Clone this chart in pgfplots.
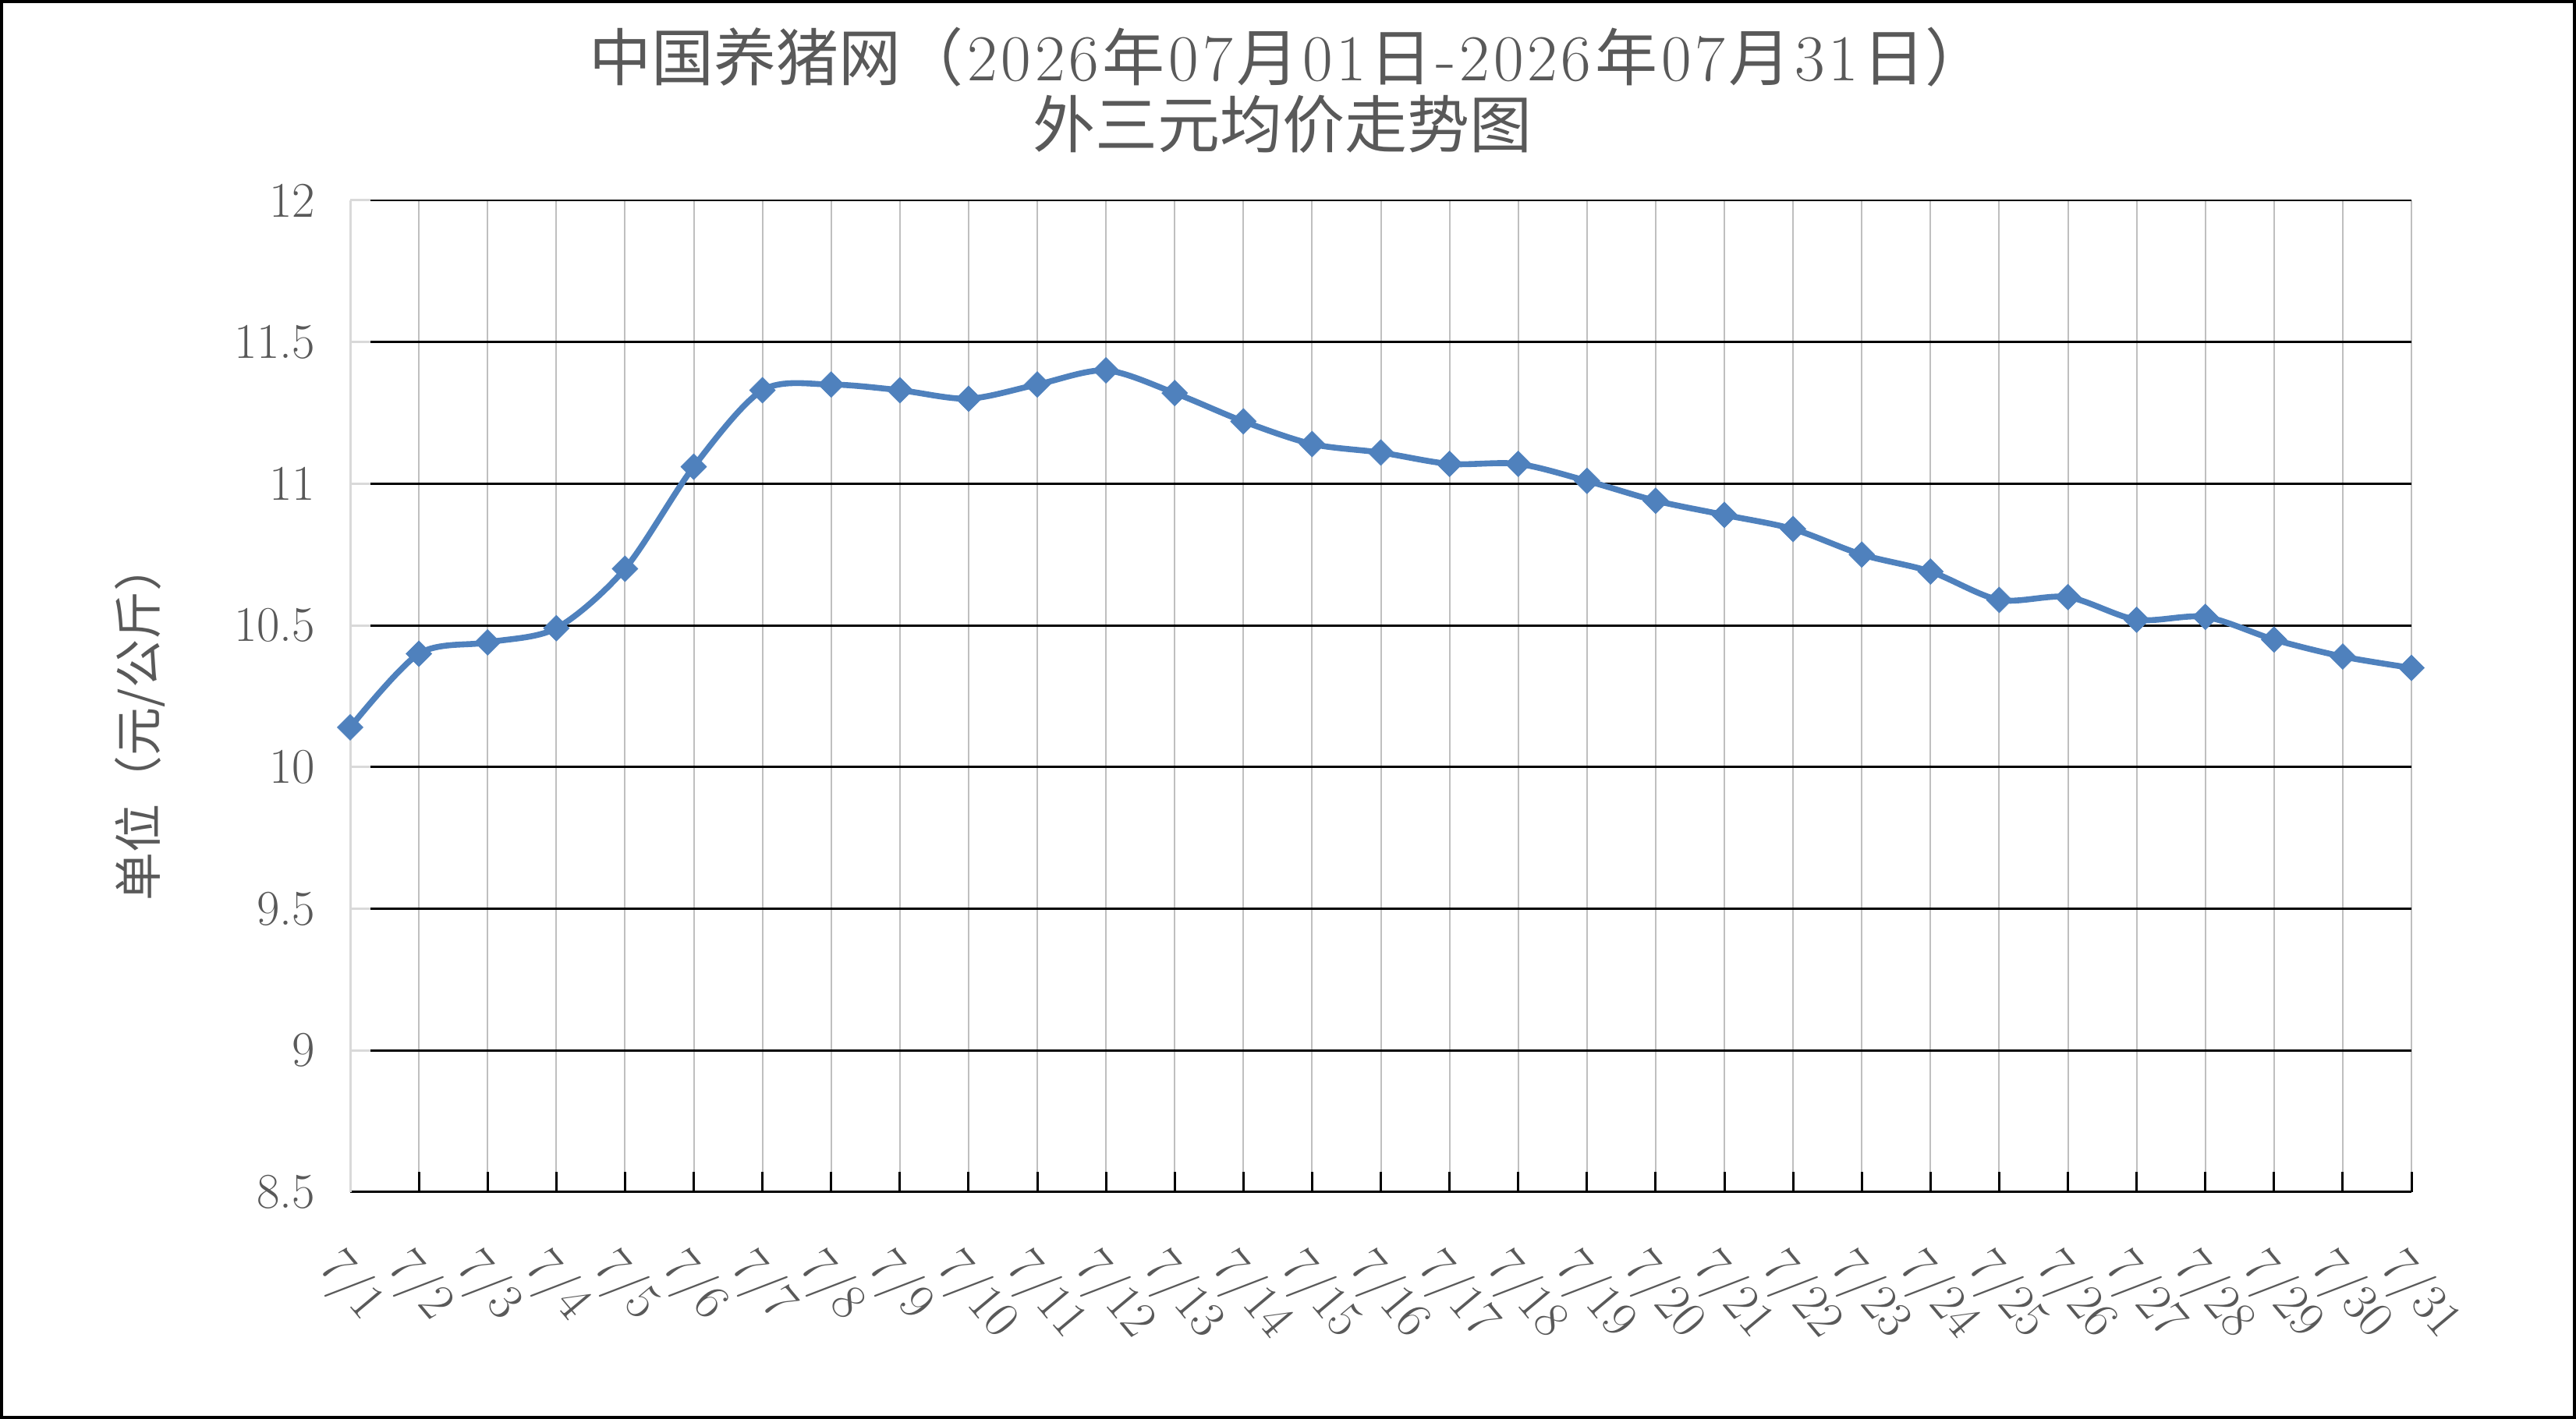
\documentclass[border=0pt]{standalone}
\usepackage{fontspec}
\usepackage{pgfplots}
\pgfplotsset{compat=1.18}
\newfontfamily\cjk{Noto Sans CJK SC}
\definecolor{txt}{HTML}{595959}
\definecolor{vgrid}{HTML}{BFBFBF}
\definecolor{laxis}{HTML}{D9D9D9}
\definecolor{ser}{HTML}{4F81BD}
\newcommand\zh[1]{{\cjk\fontsize{20}{24}\selectfont #1}}
\newcommand\s{\kern1.2pt}
\begin{document}
\begin{tikzpicture}
\useasboundingbox (0,0) rectangle (825.75pt,455pt);
\draw[black, line width=1pt] (0.5pt,0.5pt) rectangle (825.25pt,454.5pt);
\begin{axis}[
  at={(112.25pt,72.75pt)}, anchor=south west,
  scale only axis, width=660.75pt, height=318pt,
  xmin=1, xmax=31, ymin=8.5, ymax=12,
  axis x line=bottom, axis y line=left,
  x axis line style={-, black, line width=0.75pt},
  y axis line style={-, draw=laxis, line width=0.75pt},
  xtick={1,...,31},
  xticklabels={7/1,7/2,7/3,7/4,7/5,7/6,7/7,7/8,7/9,7/10,7/11,7/12,7/13,7/14,7/15,7/16,7/17,7/18,7/19,7/20,7/21,7/22,7/23,7/24,7/25,7/26,7/27,7/28,7/29,7/30,7/31},
  ytick={8.5,9,9.5,10,10.5,11,11.5,12},
  yticklabels={8.5,9,9.5,10,10.5,11,11.5,12},
  tick align=inside,
  major tick length=6.4pt,
  xtick style={black, line width=0.75pt},
  ytick style={draw=laxis, line width=0.75pt},
  xmajorgrids, ymajorgrids,
  x grid style={vgrid, line width=0.5pt},
  y grid style={black, line width=0.7pt},
  ticklabel style={text=txt},
  yticklabel style={font=\fontsize{16}{19}\selectfont, anchor=east, inner sep=0pt, xshift=-11pt},
  xticklabel style={font=\fontsize{16.5}{19}\selectfont, xshift=-1pt, yshift=-16pt, rotate=-50, anchor=north west, inner sep=0pt},
  clip=false,
]
\addplot[ser, line width=1.9pt, smooth, tension=0.5, mark=square*, mark size=2.9pt,
  mark options={rotate=45, solid, fill=ser, draw=ser, line width=0.2pt}] coordinates {
(1,10.14) (2,10.40) (3,10.44) (4,10.49) (5,10.70) (6,11.06) (7,11.33) (8,11.35)
(9,11.33) (10,11.30) (11,11.35) (12,11.40) (13,11.32) (14,11.22) (15,11.14)
(16,11.11) (17,11.07) (18,11.07) (19,11.01) (20,10.94) (21,10.89) (22,10.84)
(23,10.75) (24,10.69) (25,10.59) (26,10.60) (27,10.52) (28,10.53) (29,10.45)
(30,10.39) (31,10.35)
};
\end{axis}
\node[anchor=base, inner sep=0pt, text=txt, font=\fontsize{21}{26}\selectfont] at (413pt,429pt)
  {\zh{中国养猪网（}\s2\s0\s2\s6\s\zh{年}\s0\s7\s\zh{月}\s0\s1\s\zh{日}\s-\s2\s0\s2\s6\s\zh{年}\s0\s7\s\zh{月}\s3\s1\s\zh{日）}};
\node[anchor=base, inner sep=0pt, text=txt] at (411pt,407.7pt)
  {\zh{外三元均价走势图}};
\node[rotate=90, inner sep=0pt, text=txt, font=\fontsize{15.5}{18}\selectfont] at (44.8pt,223.5pt)
  {{\cjk 单位（元/公斤）}};
\end{tikzpicture}
\end{document}
